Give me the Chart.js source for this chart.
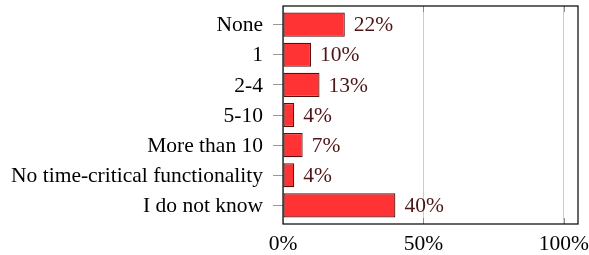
<!DOCTYPE html>
<html>
<head>
<meta charset="utf-8">
<script src="https://cdn.jsdelivr.net/npm/chart.js@4/dist/chart.umd.min.js"></script>
<style>
  html, body { margin: 0; padding: 0; background: #fff; }
</style>
</head>
<body>
<canvas id="chart" width="589" height="255"></canvas>
<script>
// Daten
const categories = ['None', '1', '2-4', '5-10', 'More than 10', 'No time-critical functionality', 'I do not know'];
const shares = [22, 10, 13, 4, 7, 4, 40];
const xTicks = [0, 50, 100];

const serif = '"Liberation Serif", "Times New Roman", serif';

// Rahmen + kleine Innen-Ticks wie bei pgfplots
const framePlugin = {
    id: 'frame',
    beforeDatasetsDraw(chart) {
        const { ctx, chartArea: a, scales } = chart;
        ctx.save();
        ctx.strokeStyle = '#8c8c8c';
        ctx.lineWidth = 1;
        xTicks.forEach(v => {
            if (v === 0) return;
            const x = Math.round(scales.x.getPixelForValue(v)) + 0.5;
            ctx.beginPath();
            ctx.moveTo(x, a.top); ctx.lineTo(x, a.top + 6);
            ctx.moveTo(x, a.bottom); ctx.lineTo(x, a.bottom - 6);
            ctx.stroke();
        });
        ctx.restore();
    },
    afterDraw(chart) {
        const { ctx, chartArea: a } = chart;
        ctx.save();
        ctx.strokeStyle = '#000';
        ctx.lineWidth = 1.2;
        ctx.strokeRect(a.left, a.top, a.right - a.left, a.bottom - a.top);
        ctx.restore();
    }
};

// Werte neben den Balken
const valueLabels = {
    id: 'valueLabels',
    afterDatasetsDraw(chart) {
        const ctx = chart.ctx;
        const meta = chart.getDatasetMeta(0);
        ctx.save();
        ctx.font = '21.5px ' + serif;
        ctx.fillStyle = '#4d1515';
        ctx.textBaseline = 'middle';
        meta.data.forEach((bar, i) => {
            ctx.fillText(shares[i] + '%', bar.x + 9, bar.y + 1);
        });
        ctx.restore();
    }
};

new Chart(document.getElementById('chart'), {
    type: 'bar',
    data: {
        datasets: [{
            data: shares.map((v, i) => ({ x: v, y: i })),
            backgroundColor: '#ff3333',
            borderColor: '#5a0f0f',
            borderWidth: 1.2,
            borderSkipped: false,
            categoryPercentage: 0.8,
            barPercentage: 1.0
        }]
    },
    options: {
        indexAxis: 'y',
        responsive: false,
        animation: false,
        layout: { padding: { top: 6, right: 11, left: 0, bottom: 0 } },
        plugins: {
            legend: { display: false },
            tooltip: { enabled: false }
        },
        scales: {
            x: {
                type: 'linear',
                min: 0,
                max: 105,
                afterBuildTicks: scale => { scale.ticks = xTicks.map(v => ({ value: v })); },
                afterFit: scale => { scale.height = 31; scale.paddingLeft = 0; scale.paddingRight = 0; },
                border: { display: false },
                grid: { color: '#cccccc', drawTicks: false, lineWidth: 1 },
                ticks: {
                    color: '#000',
                    padding: 7,
                    font: { family: serif, size: 21.5 },
                    callback: v => v + '%'
                }
            },
            y: {
                type: 'linear',
                reverse: true,
                offset: false,
                min: -0.62,
                max: 6.62,
                afterBuildTicks: scale => { scale.ticks = categories.map((_, i) => ({ value: i })); },
                afterFit: scale => { scale.width = 283; scale.paddingTop = 0; scale.paddingBottom = 0; },
                border: { display: false },
                grid: { offset: false, drawOnChartArea: false, tickLength: 10, tickColor: '#999999', color: '#999999' },
                ticks: {
                    color: '#000',
                    padding: 10,
                    labelOffset: 1,
                    font: { family: serif, size: 21.5 },
                    callback: v => categories[v]
                }
            }
        }
    },
    plugins: [framePlugin, valueLabels]
});
</script>
</body>
</html>
